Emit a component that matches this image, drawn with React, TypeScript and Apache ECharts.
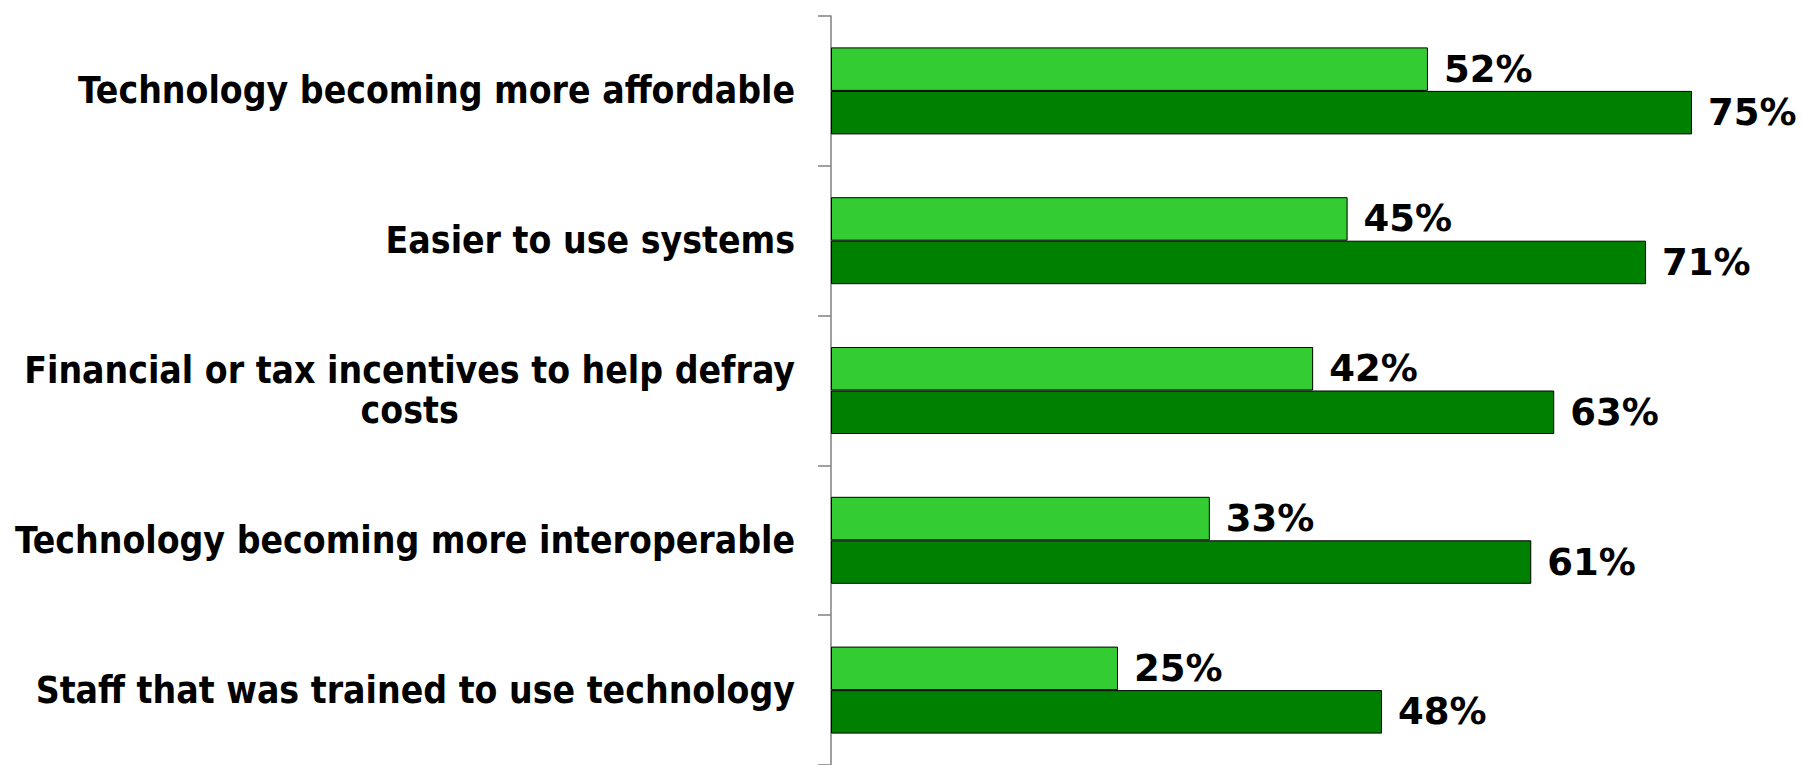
import React, { useEffect, useRef } from "react";
import * as echarts from "echarts";

const categories = [
  "Technology becoming more affordable",
  "Easier to use systems",
  "Financial or tax incentives to help defray\ncosts",
  "Technology becoming more interoperable",
  "Staff that was trained to use technology",
];
const seriesA = [52, 45, 42, 33, 25];
const seriesB = [75, 71, 63, 61, 48];

const CAT_FONT = "'DejaVu Sans Condensed', 'DejaVu Sans', sans-serif";
const VAL_FONT = "'DejaVu Sans', sans-serif";

export default function App() {
  const ref = useRef<HTMLDivElement>(null);
  useEffect(() => {
    if (!ref.current) return;
    const chart = echarts.init(ref.current, undefined, { renderer: "svg" });
    const labelStyle = {
      show: true,
      position: "right",
      distance: 16,
      formatter: "{c}%",
      fontFamily: VAL_FONT,
      fontWeight: "bold",
      fontSize: 37,
      color: "#000",
    };
    chart.setOption({
      animation: false,
      backgroundColor: "#fff",
      grid: { left: 831, top: 16, right: 0, bottom: -1 },
      xAxis: {
        type: "value",
        min: 0,
        max: 84.67,
        show: false,
      },
      yAxis: {
        type: "category",
        data: categories,
        inverse: true,
        axisLine: { show: true, lineStyle: { color: "#808080", width: 1.5 } },
        axisTick: { show: true, length: 13, lineStyle: { color: "#808080", width: 1.5 } },
        splitLine: { show: false },
        axisLabel: {
          margin: 36,
          align: "right",
          formatter: (v: string) =>
            v
              .split("\n")
              .map((l) => "{c|" + l + "}")
              .join("\n"),
          rich: {
            c: {
              align: "center",
              fontFamily: CAT_FONT,
              fontWeight: "bold",
              fontSize: 37,
              lineHeight: 40,
              color: "#000",
            },
          },
        },
      },
      series: [
        {
          type: "bar",
          data: seriesA,
          barWidth: 43.5,
          barGap: "0%",
          itemStyle: { color: "#33CC33", borderColor: "#000", borderWidth: 1 },
          label: labelStyle,
        },
        {
          type: "bar",
          data: seriesB,
          barWidth: 43.5,
          barGap: "0%",
          itemStyle: { color: "#008000", borderColor: "#000", borderWidth: 1 },
          label: labelStyle,
        },
      ],
    });
    return () => chart.dispose();
  }, []);
  return (
    <div
      ref={ref}
      style={{ position: "fixed", left: 0, top: 0, width: 1803, height: 765 }}
    />
  );
}
